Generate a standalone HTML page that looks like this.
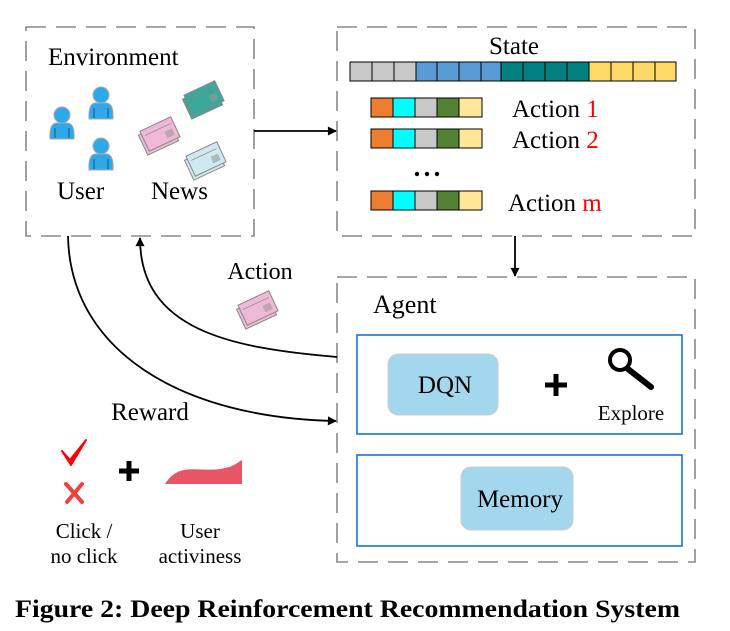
<!DOCTYPE html>
<html><head><meta charset="utf-8"><style>
html,body{margin:0;padding:0;background:#fff;}
svg, svg text{font-family:"Liberation Serif","Times New Roman","DejaVu Serif",serif;}
</style></head><body>
<svg width="730" height="631" viewBox="0 0 730 631" xmlns="http://www.w3.org/2000/svg" font-family="'Liberation Serif', 'Times New Roman', serif" style="display:block">
<defs>
<marker id="ah" viewBox="0 0 10 10" refX="9" refY="5" markerWidth="13" markerHeight="9" orient="auto" markerUnits="userSpaceOnUse"><path d="M0,0 L10,5 L0,10 z" fill="#000"/></marker>
<g id="user">
 <circle cx="0" cy="-9" r="8" fill="#2ea8e8" stroke="#aaa" stroke-width="1"/>
 <path d="M-12,15 Q-13,0 -6,-1 L6,-1 Q13,0 12,15 Z" fill="#2ea8e8" stroke="#aaa" stroke-width="1"/>
 <path d="M-7,4 L-7,14 M7,4 L7,14" stroke="#0a5a8a" stroke-width="1"/>
</g>
<g id="paper">
 <rect x="-17" y="-11" width="34" height="22" fill="currentColor" stroke="#888" stroke-width="1" transform="translate(-3,3)"/>
 <rect x="-17" y="-11" width="34" height="22" fill="currentColor" stroke="#888" stroke-width="1"/>
 <line x1="-14" y1="-5" x2="14" y2="-5" stroke="#888" stroke-width="0.7"/>
 <rect x="5" y="0" width="8" height="7" fill="#999" opacity="0.6"/>
</g>
</defs>

<g fill="none" stroke="#888" stroke-width="1.6" stroke-dasharray="20,10">
<rect x="26" y="27" width="228" height="209"/>
<rect x="337" y="27" width="358" height="209"/>
<rect x="337" y="277" width="358" height="285"/>
</g>

<text x="48" y="65" font-size="25">Environment</text>
<use href="#user" x="62" y="124"/>
<use href="#user" x="101" y="104"/>
<use href="#user" x="101" y="155"/>
<use href="#paper" x="204" y="98" color="#3aa89a" transform="rotate(-25 204 98)"/>
<use href="#paper" x="160" y="134" color="#eeb9d6" transform="rotate(-25 160 134)"/>
<use href="#paper" x="206" y="159" color="#cfe9f0" transform="rotate(-25 206 159)"/>
<text x="57" y="199" font-size="25">User</text>
<text x="151" y="199" font-size="25">News</text>

<text x="514" y="54" font-size="25" text-anchor="middle">State</text>
<g stroke="#000" stroke-width="1">
<rect x="350" y="62" width="22" height="19" fill="#c8c8c8"/>
<rect x="372" y="62" width="22" height="19" fill="#c8c8c8"/>
<rect x="394" y="62" width="22" height="19" fill="#c8c8c8"/>
<rect x="416" y="62" width="21" height="19" fill="#5b9bd5"/>
<rect x="437" y="62" width="22" height="19" fill="#5b9bd5"/>
<rect x="459" y="62" width="22" height="19" fill="#5b9bd5"/>
<rect x="481" y="62" width="20" height="19" fill="#5b9bd5"/>
<rect x="501" y="62" width="22" height="19" fill="#008080"/>
<rect x="523" y="62" width="22" height="19" fill="#008080"/>
<rect x="545" y="62" width="22" height="19" fill="#008080"/>
<rect x="567" y="62" width="22" height="19" fill="#008080"/>
<rect x="589" y="62" width="22" height="19" fill="#ffd966"/>
<rect x="611" y="62" width="22" height="19" fill="#ffd966"/>
<rect x="633" y="62" width="22" height="19" fill="#ffd966"/>
<rect x="655" y="62" width="21" height="19" fill="#ffd966"/>
</g>
<g id="act" stroke="#000" stroke-width="1">
<rect x="371" y="98" width="22" height="19" fill="#ed7d31"/>
<rect x="393" y="98" width="22" height="19" fill="#00ffff"/>
<rect x="415" y="98" width="22" height="19" fill="#c8c8c8"/>
<rect x="437" y="98" width="22" height="19" fill="#548235"/>
<rect x="459" y="98" width="23" height="19" fill="#ffe699"/>
</g>
<use href="#act" y="31"/>
<use href="#act" y="93"/>
<text x="512" y="117" font-size="25">Action <tspan fill="#f00">1</tspan></text>
<text x="512" y="148" font-size="25">Action <tspan fill="#f00">2</tspan></text>
<text x="508" y="211" font-size="25">Action <tspan fill="#f00">m</tspan></text>
<g fill="#000"><circle cx="417" cy="174" r="2.2"/><circle cx="427" cy="174" r="2.2"/><circle cx="437" cy="174" r="2.2"/></g>

<g fill="none" stroke="#000" stroke-width="1.8">
<line x1="254" y1="131" x2="336" y2="131" marker-end="url(#ah)"/>
<line x1="515" y1="236" x2="515" y2="276" marker-end="url(#ah)"/>
<path d="M337,357 C230,348 140,330 140,238" marker-end="url(#ah)"/>
<path d="M68,236 C70,350 180,418 336,421" marker-end="url(#ah)"/>
</g>
<text x="260" y="279" font-size="24" text-anchor="middle">Action</text>
<use href="#paper" x="258" y="308" color="#eeb9d6" transform="rotate(-25 258 308)"/>
<text x="150" y="420" font-size="25" text-anchor="middle">Reward</text>

<path d="M62,451 L70,460 L86,440 L71,465 Z" fill="#f00" stroke="#f00" stroke-width="2" stroke-linejoin="round"/>
<path d="M66,484 L82,502 M82,484 L67,502" stroke="#f04040" stroke-width="4" stroke-linecap="round"/>
<path d="M119,471 H139 M129,461 V481" stroke="#000" stroke-width="5"/>
<path d="M165,484 C180,460 200,474 225,468 C235,466 238,462 242,460 L242,484 Z" fill="#e85565"/>
<text x="84" y="538" font-size="21" text-anchor="middle">Click /</text>
<text x="84" y="563" font-size="21" text-anchor="middle">no click</text>
<text x="200" y="538" font-size="21" text-anchor="middle">User</text>
<text x="200" y="563" font-size="21" text-anchor="middle">activiness</text>

<text x="373" y="313" font-size="26">Agent</text>
<rect x="357" y="335" width="325" height="99" fill="none" stroke="#1874cd" stroke-width="1.6"/>
<rect x="357" y="455" width="325" height="91" fill="none" stroke="#1874cd" stroke-width="1.6"/>
<rect x="388" y="354" width="110" height="61" rx="10" fill="#a3d7ee" stroke="#ccc" stroke-width="1"/>
<text x="445" y="393" font-size="25" text-anchor="middle">DQN</text>
<path d="M545,385 H567 M556,374 V396" stroke="#000" stroke-width="5"/>
<circle cx="620" cy="360" r="10" fill="none" stroke="#000" stroke-width="4"/>
<line x1="628" y1="369" x2="651" y2="387" stroke="#000" stroke-width="6" stroke-linecap="round"/>
<text x="631" y="420" font-size="21" text-anchor="middle">Explore</text>
<rect x="461" y="467" width="112" height="63" rx="10" fill="#a3d7ee" stroke="#ccc" stroke-width="1"/>
<text x="520" y="507" font-size="25" text-anchor="middle">Memory</text>

<text x="15" y="617" font-size="25" font-weight="bold" textLength="665" lengthAdjust="spacingAndGlyphs">Figure 2: Deep Reinforcement Recommendation System</text>
</svg>
</body></html>
